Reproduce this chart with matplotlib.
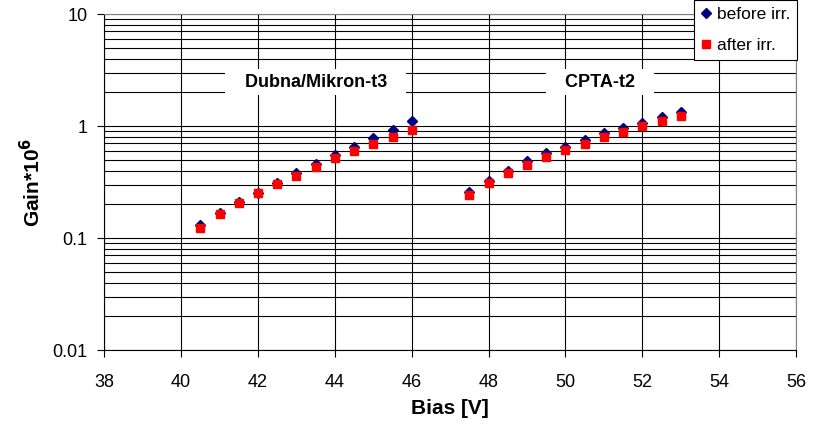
import matplotlib.pyplot as plt
from matplotlib.ticker import LogLocator, FixedLocator, NullFormatter

plt.rcParams['font.family'] = ['Liberation Sans', 'DejaVu Sans']

# Dubna/Mikron-t3
bias_dubna = [40.5, 41, 41.5, 42, 42.5, 43, 43.5, 44, 44.5, 45, 45.5, 46]
gain_dubna_before = [0.131, 0.167, 0.210, 0.252, 0.310, 0.380, 0.458, 0.551, 0.649, 0.781, 0.921, 1.11]
gain_dubna_after = [0.122, 0.163, 0.204, 0.251, 0.303, 0.360, 0.428, 0.515, 0.598, 0.691, 0.803, 0.921]

# CPTA-t2
bias_cpta = [47.5, 48, 48.5, 49, 49.5, 50, 50.5, 51, 51.5, 52, 52.5, 53]
gain_cpta_before = [0.259, 0.323, 0.399, 0.484, 0.570, 0.653, 0.750, 0.866, 0.960, 1.07, 1.20, 1.33]
gain_cpta_after = [0.242, 0.308, 0.378, 0.449, 0.532, 0.611, 0.687, 0.798, 0.884, 0.994, 1.11, 1.24]

fig = plt.figure(figsize=(8.21, 4.28), dpi=100)
ax = fig.add_axes([0.127, 0.182, 0.8426, 0.785])

ax.plot(bias_dubna + bias_cpta, gain_dubna_before + gain_cpta_before, 'D', color='#000080',
        markersize=5, label='before irr.', zorder=3)
ax.plot(bias_dubna + bias_cpta, gain_dubna_after + gain_cpta_after, 's', color='#ff0000',
        markersize=6, label='after irr.', zorder=4)

ax.set_yscale('log')
ax.set_ylim(0.01, 10)
ax.set_xlim(38, 56)
ax.set_xticks(range(38, 57, 2))
ax.yaxis.set_major_locator(FixedLocator([0.01, 0.1, 1, 10]))
ax.set_yticklabels(['0.01', '0.1', '1', '10'])
ax.yaxis.set_minor_locator(LogLocator(base=10, subs=range(2, 10)))
ax.yaxis.set_minor_formatter(NullFormatter())
ax.tick_params(axis='y', which='minor', length=0)
ax.tick_params(axis='both', which='major', direction='out', length=5, width=0.8,
               labelsize=13)
ax.tick_params(axis='x', pad=12)
ax.tick_params(axis='y', pad=7)

ax.grid(True, which='major', color='black', linewidth=0.8)
ax.grid(True, which='minor', axis='y', color='black', linewidth=0.8)
ax.set_axisbelow(True)
for s in ['top', 'right']:
    ax.spines[s].set_color('#808080')

ax.set_xlabel('Bias [V]', fontsize=15, fontweight='bold', labelpad=6)
ax.set_ylabel('Gain*10$^{\\mathbf{6}}$', fontsize=15, fontweight='bold', labelpad=6)

box = dict(facecolor='white', edgecolor='none', pad=3)
ax.text(43.5, 2.47, '   Dubna/Mikron-t3   ', fontsize=13, fontweight='bold',
        ha='center', va='center', bbox=box, zorder=5)
ax.text(50.9, 2.47, '   CPTA-t2   ', fontsize=13, fontweight='bold',
        ha='center', va='center', bbox=box, zorder=5)

leg = ax.legend(loc='upper right', bbox_to_anchor=(797 / 821, 1.0), bbox_transform=fig.transFigure,
                fontsize=12.5, handlelength=0.6, handletextpad=0.3, borderpad=0.4,
                labelspacing=0.9, fancybox=False, framealpha=1, borderaxespad=0)
leg.get_frame().set_edgecolor('black')
leg.get_frame().set_linewidth(0.8)

fig.savefig('out.png', dpi=100)
